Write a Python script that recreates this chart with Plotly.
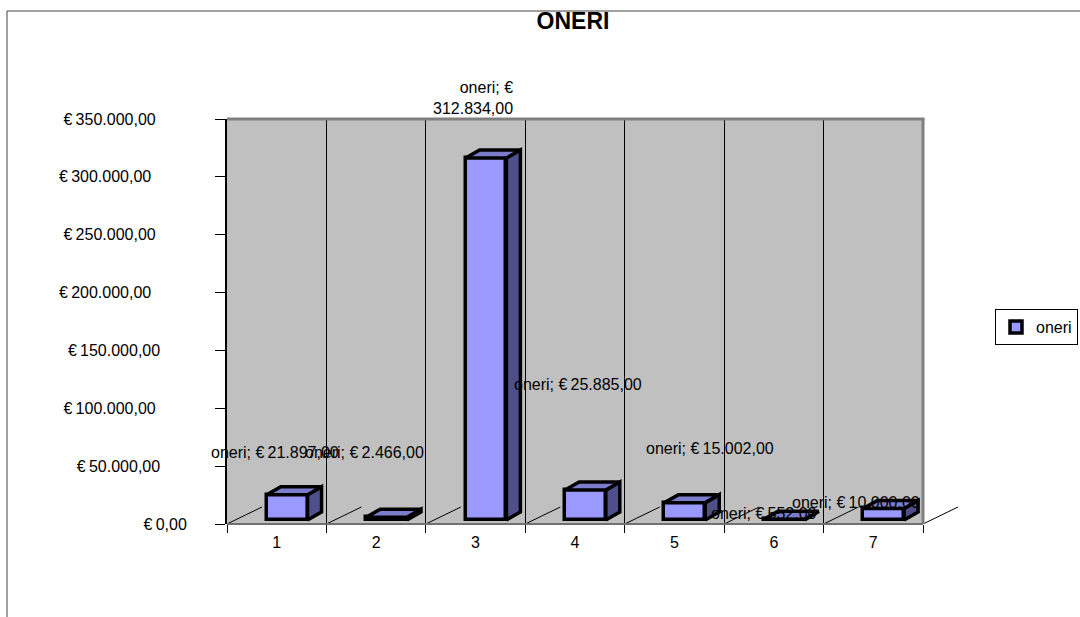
import plotly.graph_objects as go

# ---- data ----
categories = [1, 2, 3, 4, 5, 6, 7]
series_name = "oneri"
oneri = [21897, 2466, 312834, 25885, 15002, 552, 10000]
value_text = ["21.897,00", "2.466,00", "312.834,00", "25.885,00", "15.002,00", "552,00", "10.000,00"]
y_ticks = [0, 50000, 100000, 150000, 200000, 250000, 300000, 350000]
y_tick_text = ["0,00", "50.000,00", "100.000,00", "150.000,00", "200.000,00", "250.000,00", "300.000,00", "350.000,00"]

# ---- layout geometry (pixels) ----
W, H = 1080, 617
L, T, WALL_R, B, PLOT_R = 227, 119, 923, 524, 965
Y_MAX = 350000
px_per_cat = (WALL_R - L) / len(categories)
px_per_val = (B - T) / Y_MAX
def dx(px): return px / px_per_cat
def dy(px): return px / px_per_val
def paper_x(px): return (px - L) / (PLOT_R - L)
def paper_y(py): return (B - py) / (B - T)

# ---- 3-D look ----
bar_w = 0.41
bar_shift = 0.105
base_val = dy(4)
depth_x, depth_y = dx(14), dy(8)
floor_x, floor_y = dx(35), dy(17)
boundaries = [c - 0.5 for c in categories] + [categories[-1] + 0.5]

FRONT, SIDE, TOP = "#9999FF", "#4F4F8C", "#7C7CCC"
FONT = "Liberation Sans"
EURO = "€\u2009"

# right padding of each axis label, in no-break spaces
tick_pad = [0, 6, 7, 6, 8, 7, 8, 7]
tick_labels = [EURO + t + "\u00a0" * p for t, p in zip(y_tick_text, tick_pad)]

# label centres (pixels)
label_px = [274.5, 364.5, 515, 578, 710, 764, 856]
label_py = [452, 452, 98, 384, 448, 513, 502]

fig = go.Figure()

# floor lines
fx, fy = [], []
for b in boundaries:
    fx += [b, b + floor_x, None]
    fy += [0, floor_y, None]
fig.add_trace(go.Scatter(x=fx, y=fy, mode="lines", line=dict(color="black", width=1),
                         showlegend=False, hoverinfo="skip"))

# front faces
fig.add_trace(go.Bar(x=categories, y=oneri, base=base_val, width=bar_w,
                     offset=bar_shift - bar_w / 2, name=series_name,
                     marker=dict(color=FRONT, line=dict(color="black", width=3.5)),
                     showlegend=True))

# side and top faces
sx, sy, tx, ty = [], [], [], []
for c, v in zip(categories, oneri):
    x1 = c + bar_shift + bar_w / 2
    x0 = x1 - bar_w
    y0, y1 = base_val, base_val + v
    sx += [x1, x1 + depth_x, x1 + depth_x, x1, x1, None]
    sy += [y0, y0 + depth_y, y1 + depth_y, y1, y0, None]
    tx += [x0, x0 + depth_x, x1 + depth_x, x1, x0, None]
    ty += [y1, y1 + depth_y, y1 + depth_y, y1, y1, None]
for xs, ys, col in ((sx, sy, SIDE), (tx, ty, TOP)):
    fig.add_trace(go.Scatter(x=xs, y=ys, mode="lines", fill="toself", fillcolor=col,
                             line=dict(color="black", width=3.5),
                             showlegend=False, hoverinfo="skip"))

# data labels
for i, (t, px, py) in enumerate(zip(value_text, label_px, label_py)):
    two_lines = i == 2
    text = f"{series_name}; {EURO.strip()}<br>{t}" if two_lines else f"{series_name}; {EURO}{t}"
    fig.add_annotation(xref="paper", yref="paper", x=paper_x(px), y=paper_y(py),
                       text=text, showarrow=False, align="right" if two_lines else "center",
                       xanchor="right" if two_lines else "center", yanchor="middle",
                       font=dict(family=FONT, size=16, color="black"))

shapes = [
    # back wall
    dict(type="rect", layer="below", xref="x", yref="y", x0=boundaries[0], x1=boundaries[-1],
         y0=0, y1=Y_MAX, fillcolor="#C0C0C0", line=dict(width=0)),
    # wall edges
    dict(type="line", xref="paper", yref="paper", x0=paper_x(L), x1=paper_x(WALL_R + 1.5),
         y0=paper_y(T), y1=paper_y(T), line=dict(color="#808080", width=3)),
    dict(type="line", xref="paper", yref="paper", x0=paper_x(WALL_R), x1=paper_x(WALL_R),
         y0=paper_y(B), y1=paper_y(T), line=dict(color="#808080", width=3)),
    dict(type="line", xref="paper", yref="paper", x0=paper_x(L), x1=paper_x(WALL_R),
         y0=paper_y(B), y1=paper_y(B), line=dict(color="#707070", width=2)),
    # outer chart frame
    dict(type="line", xref="paper", yref="paper", x0=paper_x(7), x1=paper_x(7), y0=paper_y(H), y1=paper_y(11),
         line=dict(color="#404040", width=1)),
    dict(type="line", xref="paper", yref="paper", x0=paper_x(7), x1=paper_x(W), y0=paper_y(11), y1=paper_y(11),
         line=dict(color="#404040", width=1)),
]

fig.update_layout(
    width=W, height=H,
    margin=dict(l=L, r=W - PLOT_R, t=T, b=H - B, pad=0, autoexpand=False),
    paper_bgcolor="white", plot_bgcolor="white",
    font=dict(family=FONT, size=16, color="black"),
    title=dict(text="<b>ONERI</b>", x=573 / W, xanchor="center", xref="container",
               y=1 - 21 / H, yanchor="middle", yref="container",
               font=dict(family=FONT, size=23, color="black")),
    bargap=0, shapes=shapes,
    legend=dict(x=paper_x(995), y=paper_y(309), xanchor="left", yanchor="top",
                bordercolor="black", borderwidth=1, bgcolor="white",
                font=dict(family=FONT, size=16, color="black"),
                entrywidth=110, entrywidthmode="pixels"),
    xaxis=dict(range=[boundaries[0], boundaries[-1] + dx(PLOT_R - WALL_R)], tickmode="array",
               tickvals=categories, ticktext=[str(c) for c in categories],
               ticks="", showgrid=False, zeroline=False, showline=False,
               ticklabelstandoff=7,
               tickfont=dict(family=FONT, size=16, color="black"),
               minor=dict(tickmode="array", tickvals=boundaries, ticks="outside", ticklen=8,
                          tickcolor="black", tickwidth=1, showgrid=True,
                          gridcolor="black", gridwidth=1)),
    yaxis=dict(range=[0, Y_MAX], tickmode="array", tickvals=y_ticks, ticktext=tick_labels,
               ticks="outside", ticklen=10, tickcolor="black", tickwidth=1,
               ticklabelstandoff=25, showgrid=False, zeroline=False,
               showline=True, linecolor="black", linewidth=2,
               tickfont=dict(family=FONT, size=16, color="black")),
)

fig.write_html("out.html", config=dict(displayModeBar=False),
               post_script="document.body.style.margin='0';document.body.style.overflow='hidden';")
